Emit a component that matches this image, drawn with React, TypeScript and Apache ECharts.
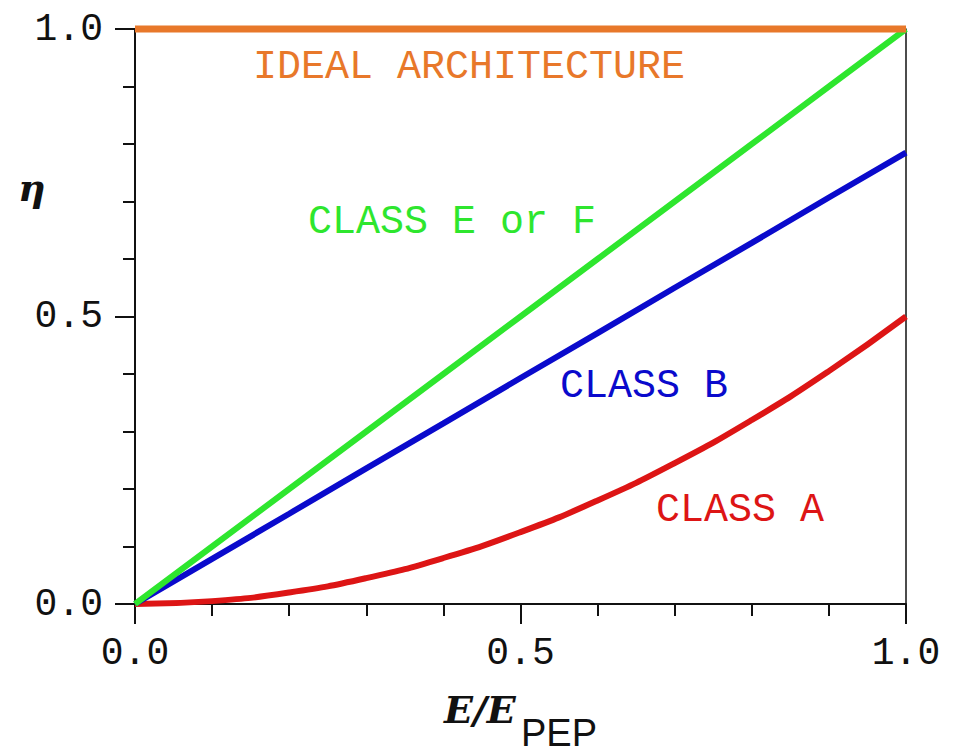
import React, { useEffect, useRef } from "react";
import * as echarts from "echarts";

const xValues = [0, 0.1, 0.2, 0.3, 0.4, 0.5, 0.6, 0.7, 0.8, 0.9, 1.0];
const idealValues = [1, 1, 1, 1, 1, 1, 1, 1, 1, 1, 1];
const classEFValues = [0, 0.1, 0.2, 0.3, 0.4, 0.5, 0.6, 0.7, 0.8, 0.9, 1.0];
const classBValues = [0, 0.0785, 0.157, 0.236, 0.314, 0.393, 0.471, 0.55, 0.628, 0.707, 0.785];
const classAValues = [0, 0.005, 0.02, 0.045, 0.08, 0.125, 0.18, 0.245, 0.32, 0.405, 0.5];
const tickLabels = ["0.0", "0.5", "1.0"];

const seriesNames = ["IDEAL ARCHITECTURE", "CLASS E or F", "CLASS B", "CLASS A"];

const ORANGE = "#E8782A";
const GREEN = "#2EE62E";
const BLUE = "#0A0ACC";
const RED = "#DD1515";
const MONO = "'Liberation Mono', 'DejaVu Sans Mono', monospace";
const SERIF = "'DejaVu Serif', 'Liberation Serif', serif";

function pairs(xs: number[], ys: number[]) {
  return xs.map((x, i) => [x, ys[i]]);
}

function labelFor(v: number) {
  const idx = Math.round(v * 2);
  return tickLabels[idx] ?? "";
}

export default function App() {
  const ref = useRef<HTMLDivElement>(null);
  useEffect(() => {
    if (!ref.current) return;
    const chart = echarts.init(ref.current, undefined, { renderer: "svg" });
    const axisLine = { show: true, lineStyle: { color: "#111", width: 2 } };
    const tickStyle = {
      show: true,
      length: 20,
      inside: false,
      lineStyle: { color: "#111", width: 2 },
    };
    const minor = {
      show: true,
      splitNumber: 5,
      length: 12,
      lineStyle: { color: "#111", width: 2 },
    };
    chart.setOption({
      animation: false,
      backgroundColor: "#ffffff",
      grid: { left: 135, right: 51, top: 29, bottom: 149, containLabel: false },
      xAxis: {
        type: "value",
        min: 0,
        max: 1,
        interval: 0.5,
        axisLine,
        axisTick: tickStyle,
        minorTick: minor,
        splitLine: { show: false },
        axisLabel: {
          margin: 30,
          fontFamily: MONO,
          fontSize: 38,
          color: "#111",
          formatter: (v: number) => labelFor(v),
        },
      },
      yAxis: [
        {
          type: "value",
          min: 0,
          max: 1,
          interval: 0.5,
          axisLine,
          axisTick: tickStyle,
          minorTick: minor,
          splitLine: { show: false },
          axisLabel: {
            margin: 32,
            fontFamily: MONO,
            fontSize: 38,
            color: "#111",
            formatter: (v: number) => labelFor(v),
          },
        },
        {
          type: "value",
          position: "right",
          min: 0,
          max: 1,
          axisLine: { show: true, lineStyle: { color: "#111", width: 1.5 } },
          axisTick: { show: false },
          axisLabel: { show: false },
          splitLine: { show: false },
        },
      ],
      series: [
        {
          name: seriesNames[3],
          type: "line",
          data: pairs(xValues, classAValues),
          smooth: true,
          showSymbol: false,
          clip: false,
          lineStyle: { color: RED, width: 6 },
        },
        {
          name: seriesNames[2],
          type: "line",
          data: pairs(xValues, classBValues),
          showSymbol: false,
          clip: false,
          lineStyle: { color: BLUE, width: 6 },
        },
        {
          name: seriesNames[1],
          type: "line",
          data: pairs(xValues, classEFValues),
          showSymbol: false,
          clip: false,
          lineStyle: { color: GREEN, width: 6 },
        },
        {
          name: seriesNames[0],
          type: "line",
          data: pairs(xValues, idealValues),
          showSymbol: false,
          clip: false,
          lineStyle: { color: ORANGE, width: 7 },
        },
      ],
      graphic: [
        {
          type: "text",
          left: 253,
          top: 47,
          style: { text: seriesNames[0], fill: ORANGE, font: `40px ${MONO}` },
        },
        {
          type: "text",
          left: 308,
          top: 202,
          style: { text: seriesNames[1], fill: GREEN, font: `40px ${MONO}` },
        },
        {
          type: "text",
          left: 560,
          top: 366,
          style: { text: seriesNames[2], fill: BLUE, font: `40px ${MONO}` },
        },
        {
          type: "text",
          left: 656,
          top: 490,
          style: { text: seriesNames[3], fill: RED, font: `40px ${MONO}` },
        },
        {
          type: "text",
          left: 18,
          top: 168,
          style: { text: "η", fill: "#111", font: `italic bold 38px ${SERIF}` },
        },
        {
          type: "text",
          left: 444,
          top: 690,
          style: { text: "E/E", fill: "#111", font: `italic bold 38px ${SERIF}` },
        },
        {
          type: "text",
          left: 521,
          top: 714,
          style: { text: "PEP", fill: "#111", font: `38px 'Liberation Sans', Arial, sans-serif` },
        },
      ],
    });
    return () => chart.dispose();
  }, []);
  return (
    <div
      ref={ref}
      style={{ position: "fixed", left: 0, top: 0, width: 957, height: 753, background: "#fff" }}
    />
  );
}
